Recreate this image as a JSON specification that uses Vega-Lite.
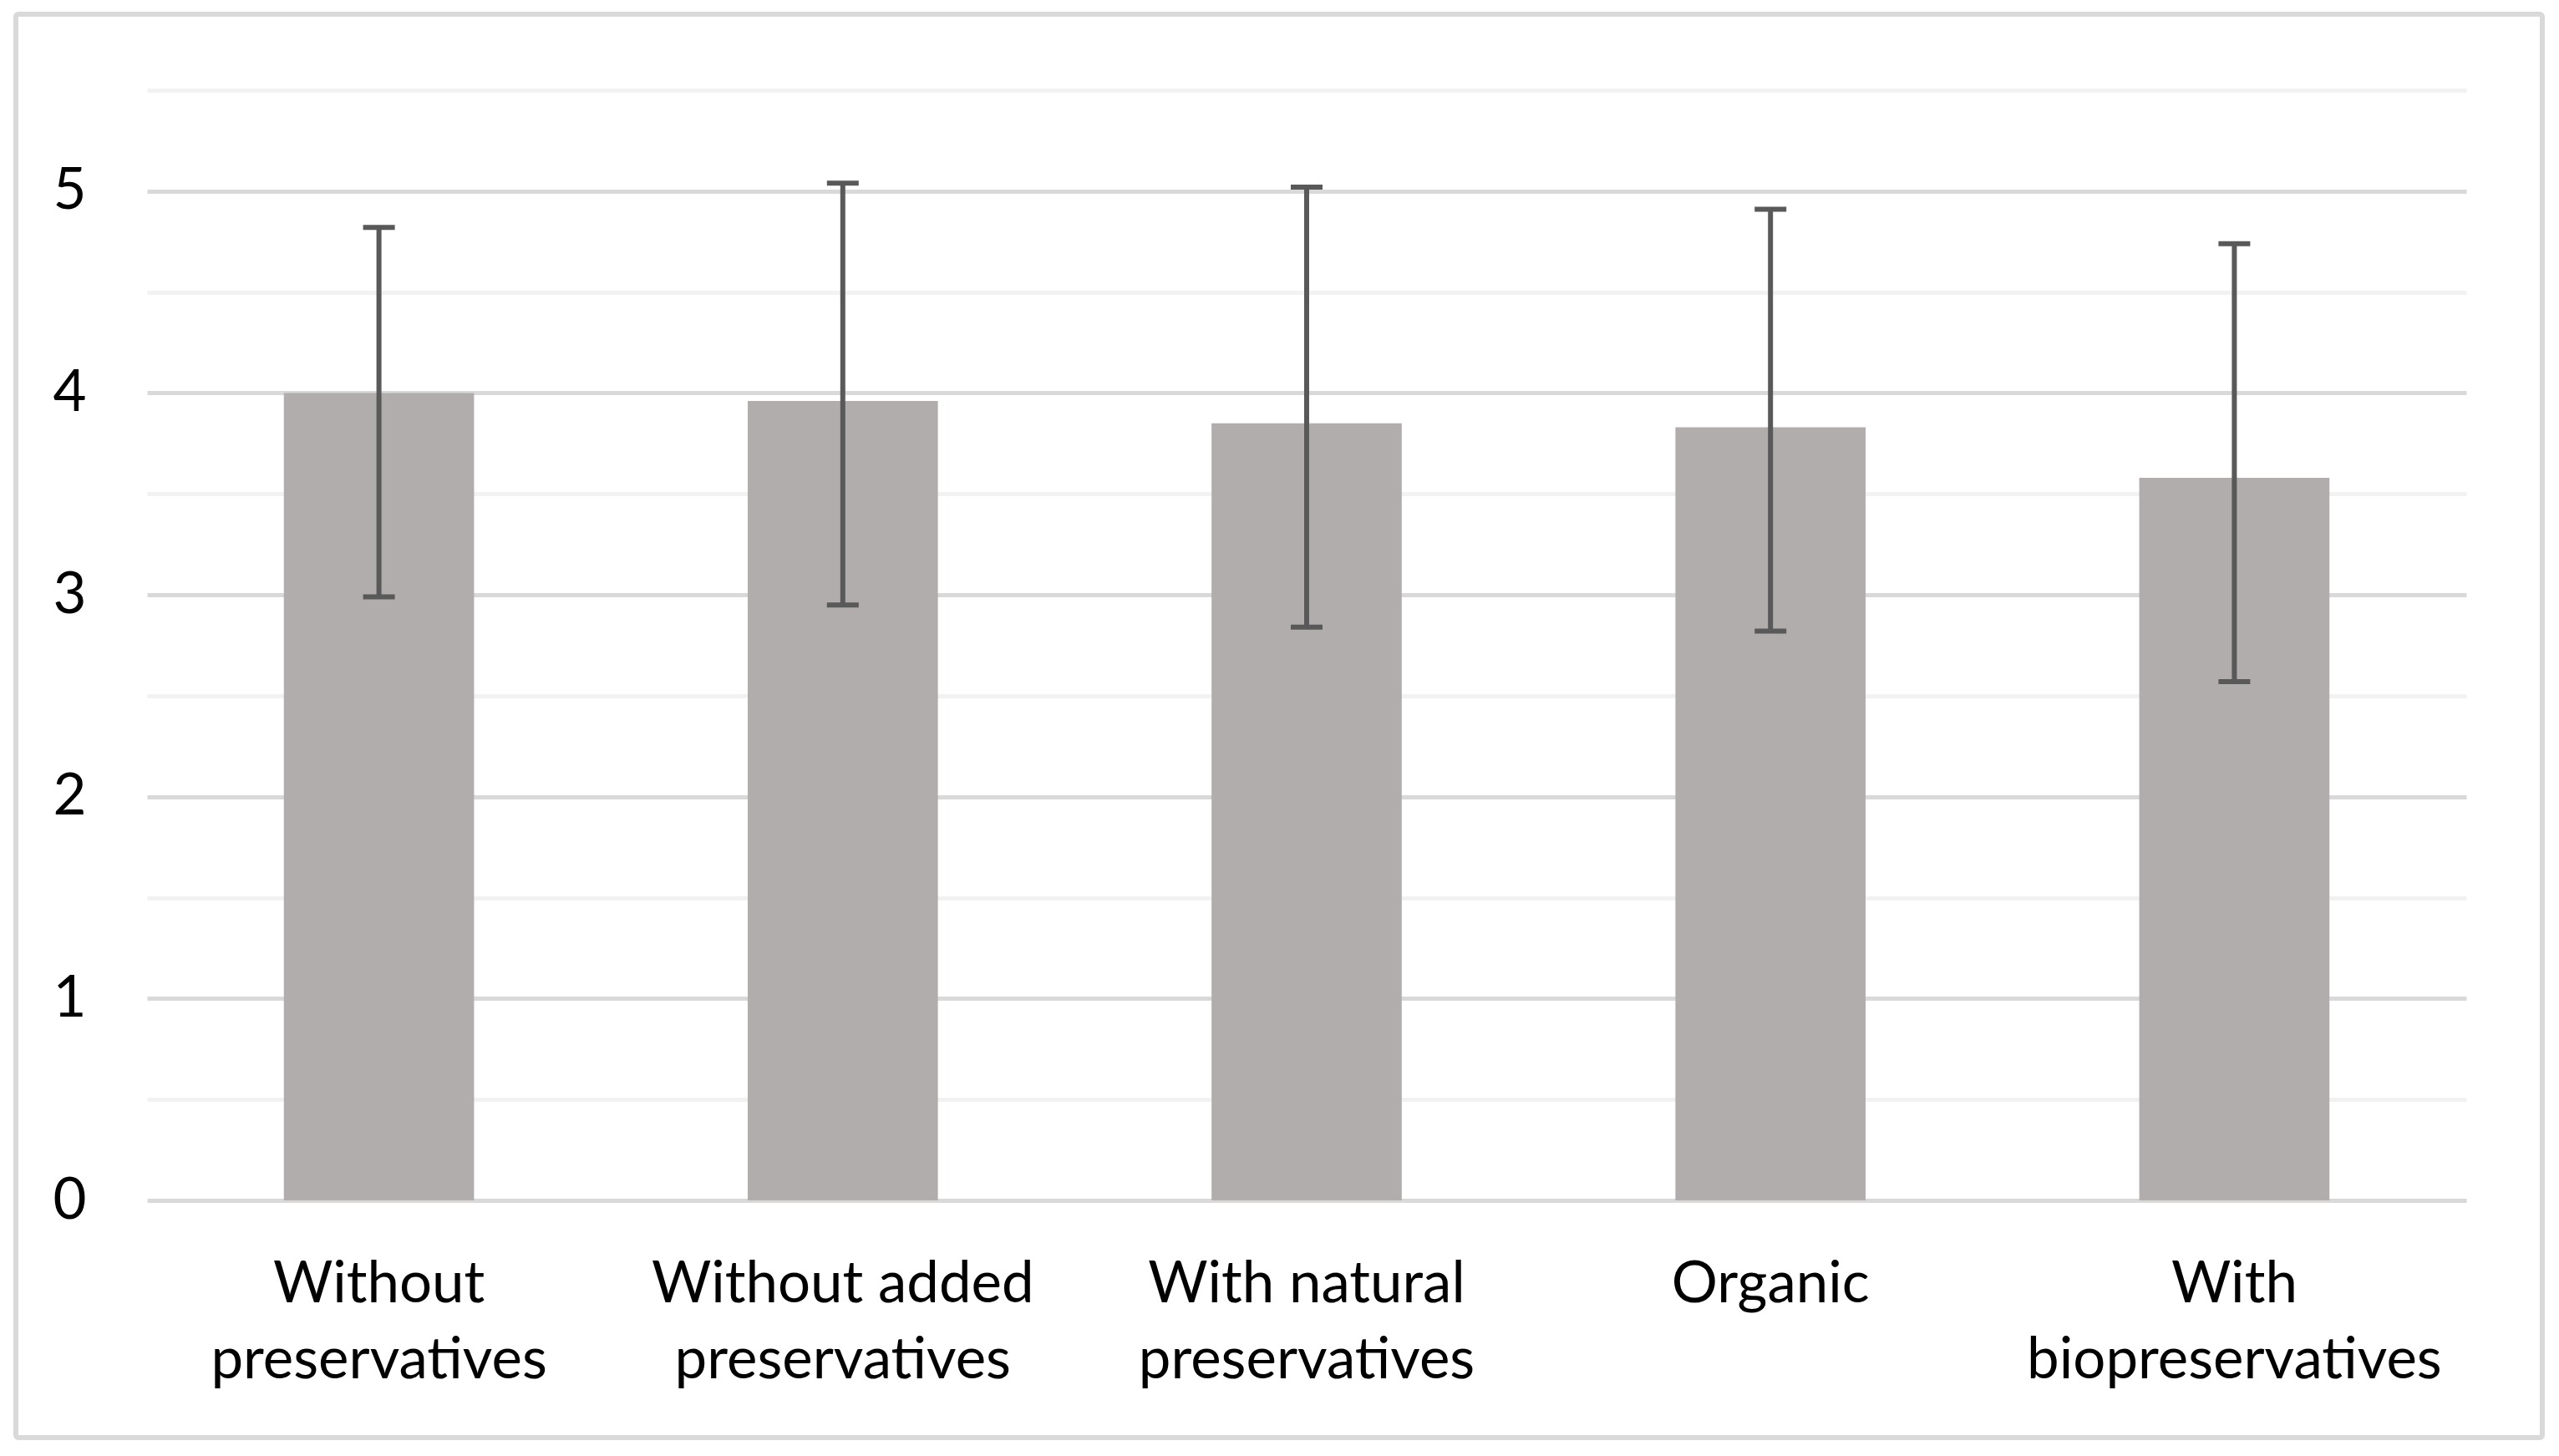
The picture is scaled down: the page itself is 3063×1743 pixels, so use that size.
{
  "$schema": "https://vega.github.io/schema/vega-lite/v6.json",
  "width": 3024,
  "height": 1704,
  "autosize": {"type": "none"},
  "padding": {"left": 19, "top": 17, "right": 20, "bottom": 22},
  "background": "white",
  "config": {
    "view": {"stroke": "#D9D9D9", "strokeWidth": 6, "cornerRadius": 3},
    "font": "Lato"
  },
  "data": {
    "values": [
      {"category": "Without preservatives", "mean": 4.00, "low": 2.99, "high": 4.82},
      {"category": "Without added preservatives", "mean": 3.96, "low": 2.95, "high": 5.04},
      {"category": "With natural preservatives", "mean": 3.85, "low": 2.84, "high": 5.02},
      {"category": "Organic", "mean": 3.83, "low": 2.82, "high": 4.91},
      {"category": "With biopreservatives", "mean": 3.58, "low": 2.57, "high": 4.74}
    ]
  },
  "encoding": {
    "x": {
      "field": "category",
      "type": "nominal",
      "sort": null,
      "scale": {"range": [157, 2933], "paddingInner": 0.59, "paddingOuter": 0.295},
      "axis": {
        "title": null,
        "orient": "bottom",
        "offset": -218,
        "labelPadding": 0,
        "ticks": false,
        "domain": false,
        "grid": false,
        "labelAngle": 0,
        "labelFont": "Lato",
        "labelFontSize": 69,
        "labelLineHeight": 91,
        "labelColor": "#000000",
        "labelLimit": 0,
        "labelOverlap": false,
        "labelFlush": false,
        "labelExpr": "lastindexof(datum.label, ' ') < 0 ? datum.label : [slice(datum.label, 0, lastindexof(datum.label, ' ')), slice(datum.label, lastindexof(datum.label, ' ') + 1)]"
      }
    }
  },
  "layer": [
    {
      "mark": {"type": "bar", "color": "#B0ADAC"},
      "encoding": {
        "y": {
          "field": "mean",
          "type": "quantitative",
          "title": null,
          "scale": {"domain": [0, 5.5], "range": [1420, 91], "nice": false, "zero": true},
          "axis": {
            "title": null,
            "orient": "left",
            "offset": -84,
            "labelPadding": 0,
            "ticks": false,
            "domain": false,
            "values": [0, 0.5, 1, 1.5, 2, 2.5, 3, 3.5, 4, 4.5, 5, 5.5],
            "labelExpr": "datum.value % 1 === 0 ? format(datum.value, 'd') : ''",
            "gridWidth": 5,
            "gridColor": {"condition": {"test": "datum.value % 1 !== 0", "value": "#F2F2F2"}, "value": "#D9D9D9"},
            "labelFont": "Lato",
            "labelFontSize": 69,
            "labelColor": "#000000",
            "labelOverlap": false,
            "labelFlush": false
          }
        }
      }
    },
    {
      "mark": {"type": "rule", "color": "#595959", "strokeWidth": 6},
      "encoding": {
        "y": {"field": "low", "type": "quantitative", "title": null},
        "y2": {"field": "high"}
      }
    },
    {
      "mark": {"type": "tick", "color": "#595959", "thickness": 6, "size": 38, "opacity": 1},
      "encoding": {
        "y": {"field": "low", "type": "quantitative", "title": null}
      }
    },
    {
      "mark": {"type": "tick", "color": "#595959", "thickness": 6, "size": 38, "opacity": 1},
      "encoding": {
        "y": {"field": "high", "type": "quantitative", "title": null}
      }
    }
  ]
}
